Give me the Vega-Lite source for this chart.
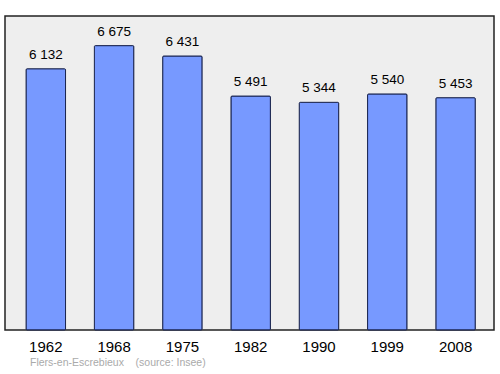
{
  "$schema": "https://vega.github.io/schema/vega-lite/v6.json",
  "autosize": "none",
  "width": 489,
  "height": 314,
  "padding": {"left": 5, "top": 16, "right": 6, "bottom": 44},
  "background": "white",
  "config": {
    "font": "Liberation Sans",
    "view": {"fill": "#eeeeee", "stroke": "#222222", "strokeWidth": 1.5},
    "locale": {"number": {"decimal": ",", "thousands": " ", "grouping": [3], "currency": ["", " €"]}}
  },
  "title": {
    "text": "Flers-en-Escrebieux\u00a0\u00a0\u00a0\u00a0(source: Insee)",
    "orient": "bottom",
    "anchor": "start",
    "dx": 25,
    "offset": 4,
    "fontSize": 10.5,
    "fontWeight": "normal",
    "color": "#aaaaaa",
    "font": "Liberation Sans"
  },
  "data": {
    "values": [
      {"year": "1962", "population": 6132},
      {"year": "1968", "population": 6675},
      {"year": "1975", "population": 6431},
      {"year": "1982", "population": 5491},
      {"year": "1990", "population": 5344},
      {"year": "1999", "population": 5540},
      {"year": "2008", "population": 5453}
    ]
  },
  "encoding": {
    "x": {
      "field": "year",
      "type": "nominal",
      "sort": null,
      "scale": {"paddingInner": 0.422, "paddingOuter": 0.291, "align": 0.53},
      "axis": {
        "title": null,
        "labelAngle": 0,
        "ticks": false,
        "domain": false,
        "labelFontSize": 15,
        "labelColor": "#000000",
        "labelPadding": 9,
        "labelFont": "Liberation Sans"
      }
    },
    "y": {
      "field": "population",
      "type": "quantitative",
      "scale": {"domain": [0, 7370], "nice": false, "zero": true},
      "axis": null
    }
  },
  "layer": [
    {
      "mark": {"type": "bar", "fill": "#7799ff", "stroke": "#1a2550", "strokeWidth": 1, "cornerRadius": 1}
    },
    {
      "mark": {"type": "text", "baseline": "alphabetic", "dy": -10, "fontSize": 13.5, "color": "#000000", "font": "Liberation Sans"},
      "encoding": {
        "text": {"field": "population", "type": "quantitative", "format": ",d"}
      }
    }
  ]
}
